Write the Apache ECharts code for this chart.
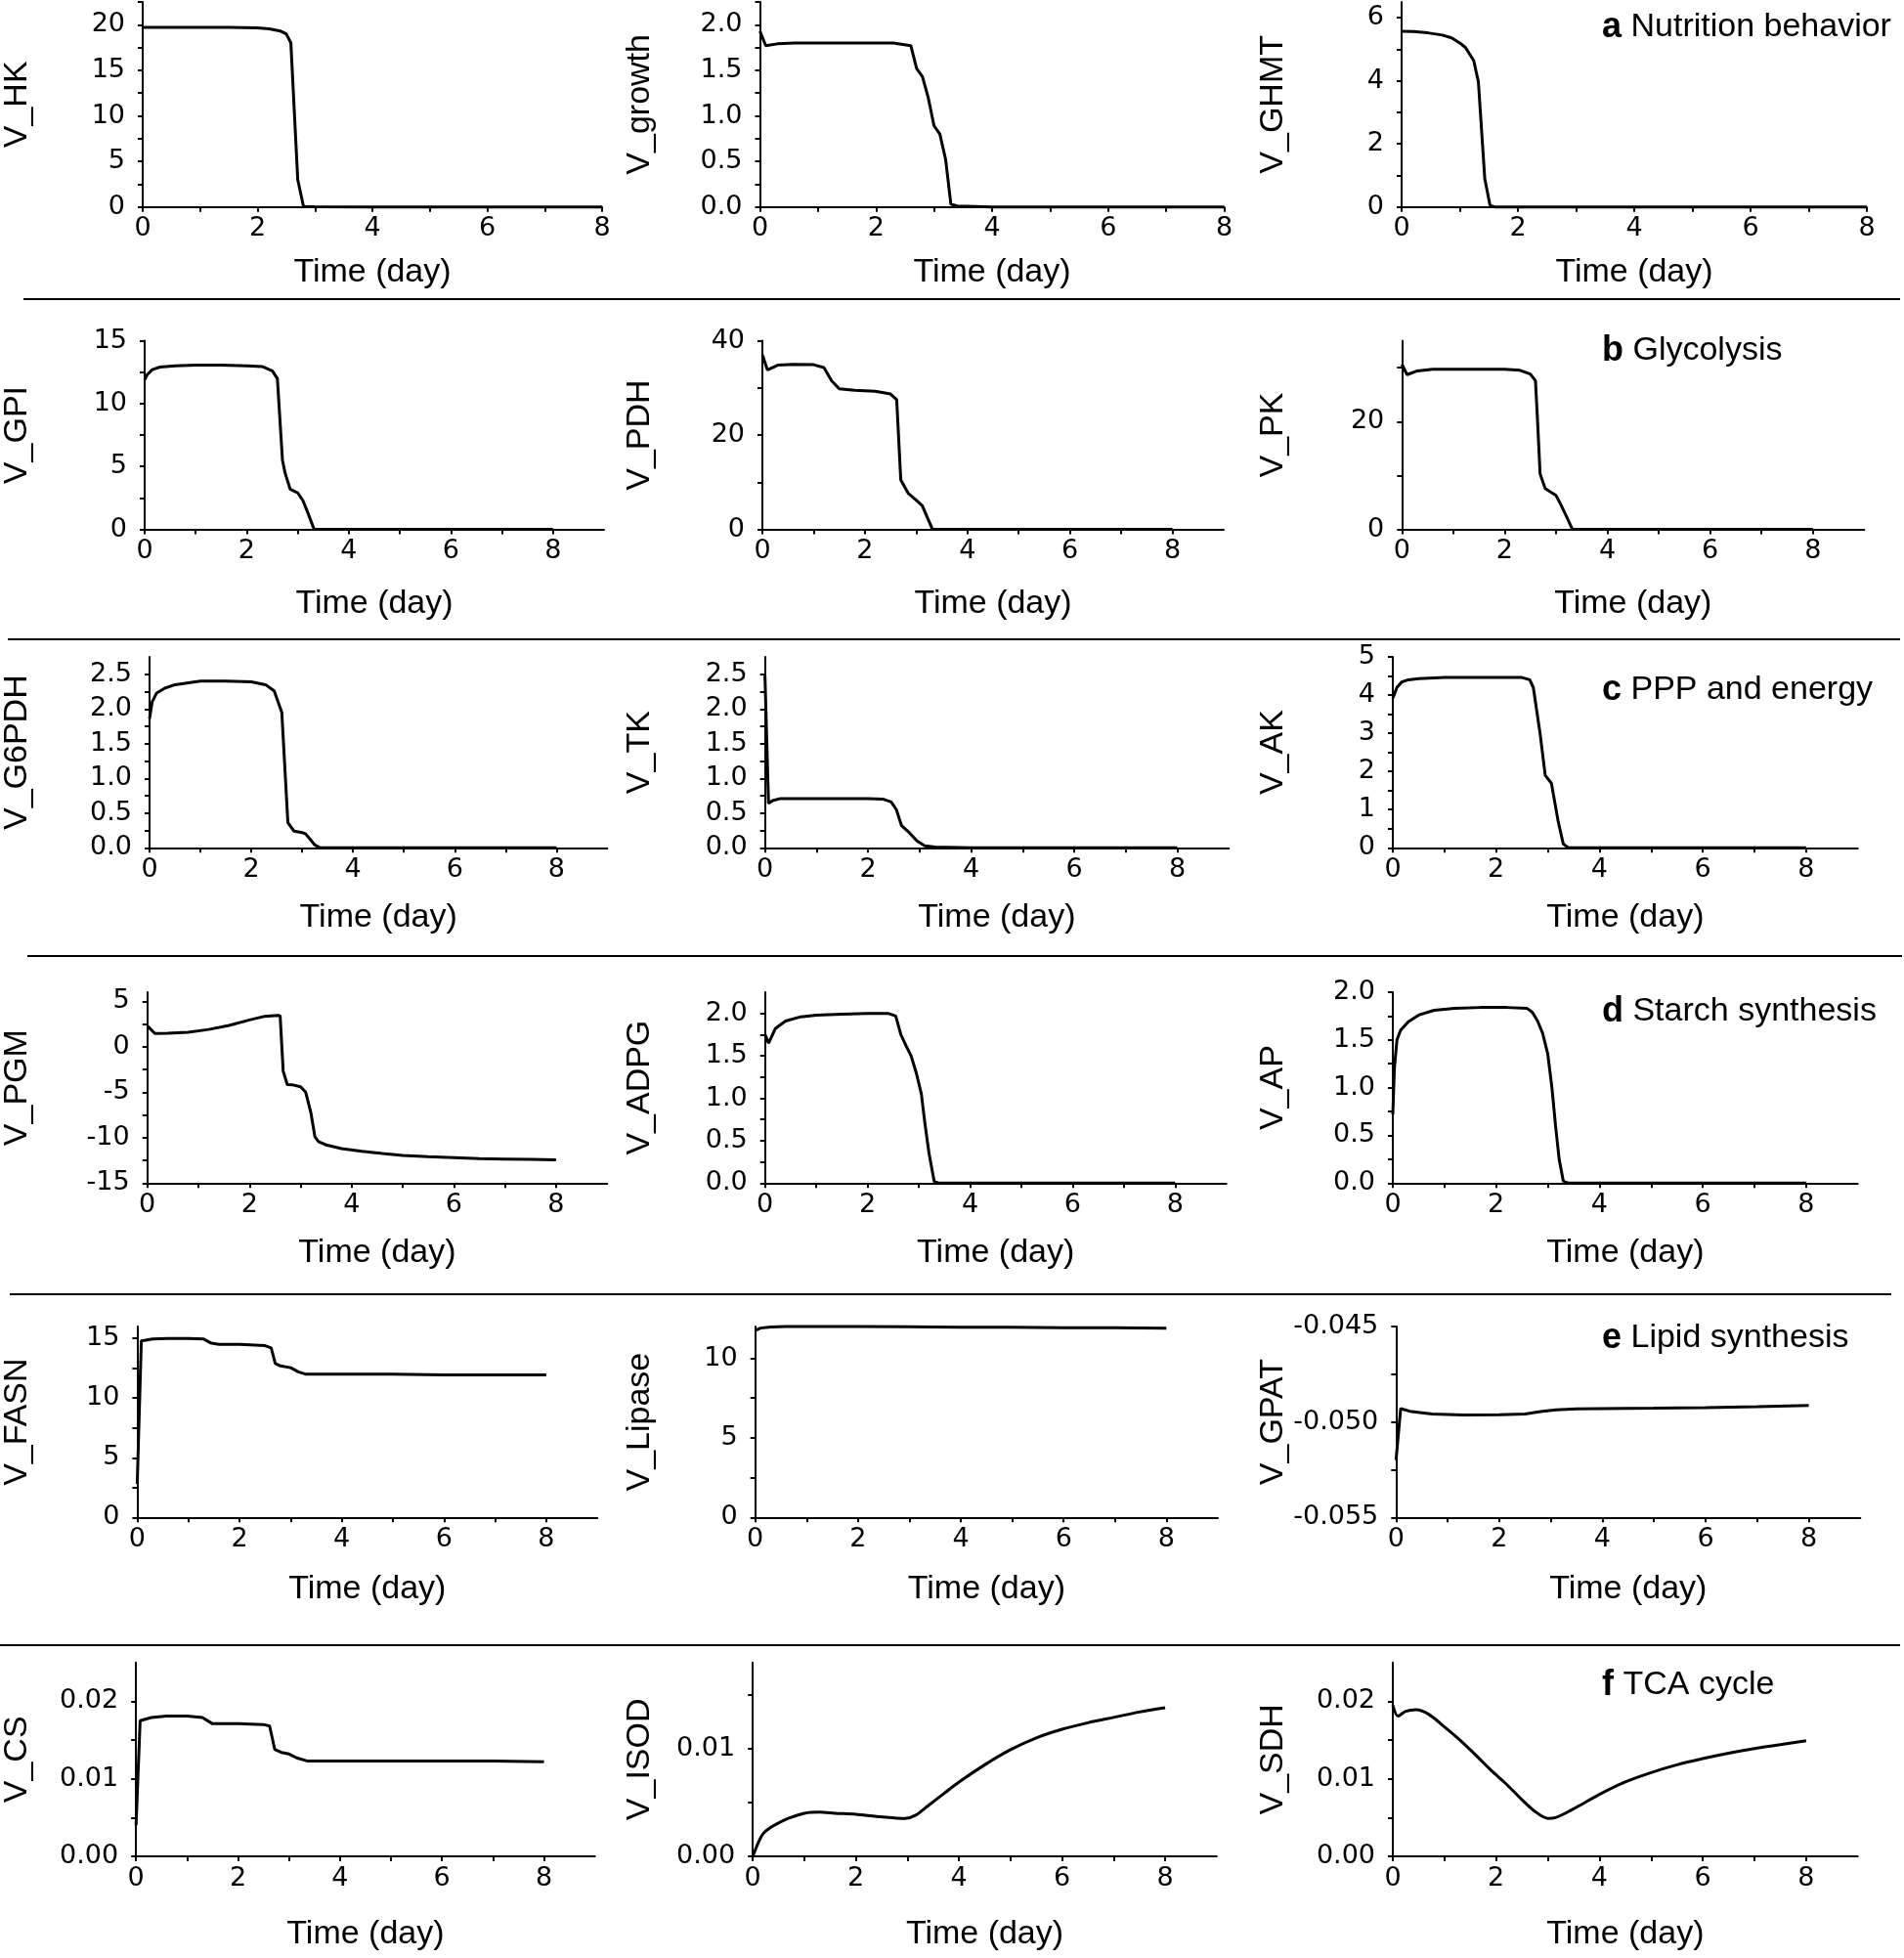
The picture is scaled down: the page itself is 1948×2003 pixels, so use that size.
<!DOCTYPE html>
<html><head><meta charset="utf-8">
<script src="https://cdn.jsdelivr.net/npm/echarts@6/dist/echarts.min.js"></script>
<style>html,body{margin:0;padding:0;background:#fff}#c{width:1948px;height:2003px}</style>
</head><body><div id="c"></div>
<script>
// ---------- DATA ----------
// x axis (time, day)
const X_LABELS = [0, 2, 4, 6, 8];
const X_TICKS = [0, 1, 2, 3, 4, 5, 6, 7, 8];

// a Nutrition behavior
const T_HK = [0, 0.5, 1, 1.5, 2.0, 2.2, 2.4, 2.5, 2.58, 2.7, 2.8, 3, 4, 5, 6, 7, 8];
const V_HK = [19.7, 19.7, 19.7, 19.7, 19.65, 19.55, 19.3, 19.0, 18.0, 3.0, 0.05, 0.02, 0, 0, 0, 0, 0];
const T_GROWTH = [0, 0.1, 0.3, 0.6, 1, 1.5, 2, 2.3, 2.6, 2.7, 2.8, 2.9, 3.0, 3.1, 3.2, 3.29, 3.4, 4, 5, 6, 7, 8];
const V_GROWTH = [1.93, 1.77, 1.79, 1.80, 1.80, 1.80, 1.80, 1.80, 1.77, 1.52, 1.43, 1.2, 0.89, 0.80, 0.52, 0.03, 0.01, 0, 0, 0, 0, 0];
const T_GHMT = [0, 0.2, 0.45, 0.7, 0.86, 1.0, 1.1, 1.24, 1.32, 1.43, 1.52, 1.6, 2, 4, 6, 8];
const V_GHMT = [5.57, 5.56, 5.52, 5.45, 5.36, 5.2, 5.05, 4.64, 3.97, 0.9, 0.05, 0, 0, 0, 0, 0];

// b Glycolysis
const T_GPI = [0, 0.05, 0.15, 0.3, 0.6, 1, 1.5, 2, 2.3, 2.5, 2.6, 2.7, 2.75, 2.85, 3.0, 3.1, 3.2, 3.32, 3.4, 4, 5, 6, 7, 8];
const V_GPI = [11.9, 12.3, 12.7, 12.9, 13.0, 13.05, 13.05, 13.0, 12.95, 12.6, 12.0, 5.5, 4.5, 3.2, 2.9, 2.3, 1.3, 0, 0, 0, 0, 0, 0, 0];
const T_PDH = [0, 0.1, 0.3, 0.6, 1.0, 1.2, 1.35, 1.5, 1.8, 2.2, 2.5, 2.62, 2.7, 2.85, 3.0, 3.12, 3.22, 3.32, 3.4, 4, 5, 6, 7, 8];
const V_PDH = [37, 33.8, 34.8, 35, 34.9, 34.3, 31.5, 29.8, 29.5, 29.3, 28.7, 27.5, 10.5, 7.6, 6.2, 5.0, 2.5, 0, 0, 0, 0, 0, 0, 0];
const T_PK = [0, 0.1, 0.3, 0.6, 1, 1.5, 2, 2.3, 2.5, 2.6, 2.64, 2.69, 2.79, 2.9, 3.0, 3.1, 3.2, 3.32, 3.4, 4, 5, 6, 7, 8];
const V_PK = [30.6, 28.7, 29.4, 29.7, 29.7, 29.7, 29.7, 29.5, 28.8, 27.6, 20.3, 10.3, 7.6, 6.9, 6.3, 4.5, 2.5, 0, 0, 0, 0, 0, 0, 0];

// c PPP and energy
const T_G6PDH = [0, 0.05, 0.14, 0.3, 0.5, 1, 1.5, 2, 2.28, 2.45, 2.6, 2.72, 2.84, 3.0, 3.07, 3.16, 3.25, 3.36, 4, 5, 6, 7, 8];
const V_G6PDH = [1.86, 2.1, 2.23, 2.3, 2.35, 2.40, 2.40, 2.39, 2.35, 2.26, 1.95, 0.36, 0.24, 0.22, 0.2, 0.12, 0.04, 0, 0, 0, 0, 0, 0];
const T_TK = [0, 0.07, 0.15, 0.3, 0.6, 1, 1.5, 2, 2.3, 2.45, 2.55, 2.65, 2.8, 2.95, 3.1, 3.3, 4, 5, 6, 7, 8];
const V_TK = [2.49, 0.64, 0.68, 0.71, 0.71, 0.71, 0.71, 0.71, 0.70, 0.66, 0.55, 0.32, 0.22, 0.1, 0.03, 0.01, 0, 0, 0, 0, 0];
const T_AK = [0, 0.08, 0.17, 0.3, 0.5, 1, 1.5, 2, 2.5, 2.65, 2.72, 2.85, 2.95, 3.07, 3.2, 3.3, 3.4, 4, 5, 6, 7, 8];
const V_AK = [3.92, 4.2, 4.34, 4.4, 4.43, 4.46, 4.46, 4.46, 4.46, 4.4, 4.2, 3.0, 1.9, 1.69, 0.7, 0.1, 0, 0, 0, 0, 0, 0];

// d Starch synthesis
const T_PGM = [0, 0.15, 0.4, 0.8, 1.2, 1.6, 2.0, 2.3, 2.55, 2.6, 2.66, 2.74, 2.85, 3.0, 3.1, 3.2, 3.28, 3.35, 3.5, 3.8, 4.2, 4.6, 5, 5.5, 6, 6.5, 7, 7.5, 8];
const V_PGM = [2.3, 1.45, 1.48, 1.6, 1.9, 2.35, 2.95, 3.35, 3.45, 3.4, -2.7, -4.16, -4.2, -4.4, -5.0, -7.2, -9.9, -10.45, -10.8, -11.2, -11.5, -11.75, -11.95, -12.1, -12.2, -12.3, -12.35, -12.4, -12.45];
const T_ADPG = [0, 0.07, 0.2, 0.4, 0.7, 1, 1.5, 2, 2.4, 2.55, 2.65, 2.75, 2.85, 2.95, 3.05, 3.12, 3.2, 3.3, 3.4, 4, 5, 6, 7, 8];
const V_ADPG = [1.75, 1.65, 1.82, 1.91, 1.96, 1.98, 1.99, 2.0, 2.0, 1.97, 1.75, 1.62, 1.5, 1.3, 1.05, 0.7, 0.35, 0.02, 0, 0, 0, 0, 0, 0];
const T_AP = [0, 0.03, 0.08, 0.15, 0.3, 0.5, 0.8, 1.2, 1.7, 2.2, 2.6, 2.7, 2.8, 2.9, 3.0, 3.08, 3.15, 3.22, 3.3, 3.4, 4, 5, 6, 7, 8];
const V_AP = [0.72, 1.2, 1.5, 1.6, 1.69, 1.76, 1.81, 1.83, 1.84, 1.84, 1.83, 1.79, 1.7, 1.57, 1.35, 1.0, 0.6, 0.25, 0.02, 0, 0, 0, 0, 0, 0];

// e Lipid synthesis
const T_FASN = [0, 0.08, 0.3, 0.6, 1, 1.3, 1.45, 1.6, 2, 2.5, 2.62, 2.7, 2.8, 3.0, 3.15, 3.3, 4, 5, 6, 7, 8];
const V_FASN = [2.8, 14.8, 14.95, 15.0, 15.0, 14.95, 14.6, 14.5, 14.5, 14.4, 14.2, 12.9, 12.7, 12.55, 12.2, 12.0, 12.0, 12.0, 11.95, 11.95, 11.95];
const T_LIPASE = [0, 0.1, 0.3, 0.6, 1, 2, 3, 4, 5, 6, 7, 8];
const V_LIPASE = [11.75, 11.9, 11.97, 12.0, 12.0, 12.0, 11.98, 11.96, 11.95, 11.93, 11.92, 11.9];
const T_GPAT = [0, 0.09, 0.3, 0.7, 1.3, 2, 2.5, 2.8, 3.1, 3.5, 4, 5, 6, 7, 8];
const V_GPAT = [-0.0520, -0.04930, -0.04946, -0.04958, -0.04963, -0.04962, -0.04958, -0.04946, -0.04936, -0.04932, -0.04930, -0.04928, -0.04925, -0.04920, -0.04914];

// f TCA cycle
const T_CS = [0, 0.08, 0.3, 0.6, 1, 1.3, 1.5, 2, 2.5, 2.62, 2.72, 2.85, 3.0, 3.15, 3.35, 4, 5, 6, 7, 8];
const V_CS = [0.0040, 0.0175, 0.0179, 0.0181, 0.0181, 0.0179, 0.0171, 0.0171, 0.0170, 0.0168, 0.0138, 0.0134, 0.0132, 0.0127, 0.0123, 0.0123, 0.0123, 0.0123, 0.0123, 0.0122];
const T_ISOD = [0, 0.1, 0.2, 0.35, 0.5, 0.7, 1.0, 1.3, 1.6, 2.0, 2.4, 2.8, 2.95, 3.15, 3.4, 3.7, 4.0, 4.5, 5, 5.5, 6, 6.5, 7, 7.5, 8];
const V_ISOD = [0, 0.0012, 0.0021, 0.0027, 0.0031, 0.00355, 0.0040, 0.0041, 0.0040, 0.0039, 0.0037, 0.00355, 0.00352, 0.0038, 0.0047, 0.0058, 0.0069, 0.0085, 0.0099, 0.0110, 0.0118, 0.0124, 0.0129, 0.0134, 0.0138];
const T_SDH = [0, 0.1, 0.25, 0.45, 0.7, 1.0, 1.3, 1.6, 1.9, 2.2, 2.5, 2.75, 3.0, 3.15, 3.35, 3.6, 4.0, 4.5, 5, 5.5, 6, 6.5, 7, 7.5, 8];
const V_SDH = [0.0195, 0.0181, 0.0187, 0.0189, 0.0183, 0.0167, 0.0150, 0.0131, 0.0111, 0.0093, 0.0073, 0.0058, 0.0049, 0.0050, 0.0056, 0.0065, 0.0080, 0.0096, 0.0108, 0.0118, 0.0126, 0.0133, 0.0139, 0.0144, 0.0149];

// y tick labels / tick marks
const YL_HK = [0, 5, 10, 15, 20];           const YT_HK = [0, 2.5, 5, 7.5, 10, 12.5, 15, 17.5, 20, 22.5];
const YL_GROWTH = [0, 0.5, 1, 1.5, 2];      const YT_GROWTH = [0, 0.25, 0.5, 0.75, 1, 1.25, 1.5, 1.75, 2, 2.25];
const YL_GHMT = [0, 2, 4, 6];               const YT_GHMT = [0, 1, 2, 3, 4, 5, 6];
const YL_GPI = [0, 5, 10, 15];              const YT_GPI = [0, 2.5, 5, 7.5, 10, 12.5, 15];
const YL_PDH = [0, 20, 40];                 const YT_PDH = [0, 10, 20, 30, 40];
const YL_PK = [0, 20];                      const YT_PK = [0, 10, 20, 30];
const YL_G6PDH = [0, 0.5, 1, 1.5, 2, 2.5];  const YT_G6PDH = [0, 0.25, 0.5, 0.75, 1, 1.25, 1.5, 1.75, 2, 2.25, 2.5];
const YL_TK = [0, 0.5, 1, 1.5, 2, 2.5];     const YT_TK = [0, 0.25, 0.5, 0.75, 1, 1.25, 1.5, 1.75, 2, 2.25, 2.5];
const YL_AK = [0, 1, 2, 3, 4, 5];           const YT_AK = [0, 0.5, 1, 1.5, 2, 2.5, 3, 3.5, 4, 4.5, 5];
const YL_PGM = [-15, -10, -5, 0, 5];        const YT_PGM = [-15, -12.5, -10, -7.5, -5, -2.5, 0, 2.5, 5];
const YL_ADPG = [0, 0.5, 1, 1.5, 2];        const YT_ADPG = [0, 0.25, 0.5, 0.75, 1, 1.25, 1.5, 1.75, 2];
const YL_AP = [0, 0.5, 1, 1.5, 2];          const YT_AP = [0, 0.25, 0.5, 0.75, 1, 1.25, 1.5, 1.75, 2];
const YL_FASN = [0, 5, 10, 15];             const YT_FASN = [0, 2.5, 5, 7.5, 10, 12.5, 15];
const YL_LIPASE = [0, 5, 10];               const YT_LIPASE = [0, 2.5, 5, 7.5, 10];
const YL_GPAT = [-0.055, -0.05, -0.045];    const YT_GPAT = [-0.055, -0.0525, -0.05, -0.0475, -0.045];
const YL_CS = [0, 0.01, 0.02];              const YT_CS = [0, 0.005, 0.01, 0.015, 0.02];
const YL_ISOD = [0, 0.01];                  const YT_ISOD = [0, 0.005, 0.01, 0.015];
const YL_SDH = [0, 0.01, 0.02];             const YT_SDH = [0, 0.005, 0.01, 0.015, 0.02];

const SECTION_LABELS = [['a', 'Nutrition behavior'], ['b', 'Glycolysis'], ['c', 'PPP and energy'],
  ['d', 'Starch synthesis'], ['e', 'Lipid synthesis'], ['f', 'TCA cycle']];

// ---------- LAYOUT ----------
const FONT = '"Liberation Sans", Arial, sans-serif';
const TICK_FONT = '"DejaVu Sans", "Liberation Sans", sans-serif';
const rows = [
  { top: 2, bottom: 211.7, xMax: 8, xNameGap: 50, labelY: 28 },
  { top: 348.5, bottom: 541.6, xMax: 9, xNameGap: 59, labelY: 359 },
  { top: 672, bottom: 867.3, xMax: 9, xNameGap: 54, labelY: 706 },
  { top: 1015, bottom: 1210.3, xMax: 9, xNameGap: 54, labelY: 1035 },
  { top: 1357, bottom: 1552.3, xMax: 9, xNameGap: 56, labelY: 1369 },
  { top: 1700.7, bottom: 1899, xMax: 9, xNameGap: 63, labelY: 1724 }
];
const NAME_RIGHT = [30, 672, 1320];
const panels = [
  { row: 0, left: 141, width: 475, name: 'V_HK', t: T_HK, v: V_HK, min: 0, max: 22.5, yl: YL_HK, yt: YT_HK, dec: 0 },
  { row: 0, left: 777.5, width: 475, name: 'V_growth', t: T_GROWTH, v: V_GROWTH, min: 0, max: 2.25, yl: YL_GROWTH, yt: YT_GROWTH, dec: 1 },
  { row: 0, left: 1434, width: 476, name: 'V_GHMT', t: T_GHMT, v: V_GHMT, min: 0, max: 6.5, yl: YL_GHMT, yt: YT_GHMT, dec: 0 },
  { row: 1, left: 143, width: 475, name: 'V_GPI', t: T_GPI, v: V_GPI, min: 0, max: 15, yl: YL_GPI, yt: YT_GPI, dec: 0 },
  { row: 1, left: 780, width: 472, name: 'V_PDH', t: T_PDH, v: V_PDH, min: 0, max: 40, yl: YL_PDH, yt: YT_PDH, dec: 0 },
  { row: 1, left: 1434.3, width: 473, name: 'V_PK', t: T_PK, v: V_PK, min: 0, max: 35, yl: YL_PK, yt: YT_PK, dec: 0 },
  { row: 2, left: 148, width: 473.4, name: 'V_G6PDH', t: T_G6PDH, v: V_G6PDH, min: 0, max: 2.75, yl: YL_G6PDH, yt: YT_G6PDH, dec: 1 },
  { row: 2, left: 782.6, width: 474.6, name: 'V_TK', t: T_TK, v: V_TK, min: 0, max: 2.75, yl: YL_TK, yt: YT_TK, dec: 1 },
  { row: 2, left: 1425, width: 475.7, name: 'V_AK', t: T_AK, v: V_AK, min: 0, max: 5, yl: YL_AK, yt: YT_AK, dec: 0 },
  { row: 3, left: 145.7, width: 475.5, name: 'V_PGM', t: T_PGM, v: V_PGM, min: -15, max: 6, yl: YL_PGM, yt: YT_PGM, dec: 0 },
  { row: 3, left: 782.7, width: 472, name: 'V_ADPG', t: T_ADPG, v: V_ADPG, min: 0, max: 2.25, yl: YL_ADPG, yt: YT_ADPG, dec: 1 },
  { row: 3, left: 1425, width: 475.7, name: 'V_AP', t: T_AP, v: V_AP, min: 0, max: 2, yl: YL_AP, yt: YT_AP, dec: 1 },
  { row: 4, left: 135.4, width: 475.8, name: 'V_FASN', t: T_FASN, v: V_FASN, min: 0, max: 16, yl: YL_FASN, yt: YT_FASN, dec: 0 },
  { row: 4, left: 772.7, width: 473.3, name: 'V_Lipase', t: T_LIPASE, v: V_LIPASE, min: 0, max: 12, yl: YL_LIPASE, yt: YT_LIPASE, dec: 0 },
  { row: 4, left: 1428.3, width: 475, name: 'V_GPAT', t: T_GPAT, v: V_GPAT, min: -0.055, max: -0.045, yl: YL_GPAT, yt: YT_GPAT, dec: 3 },
  { row: 5, left: 134.2, width: 474.5, name: 'V_CS', t: T_CS, v: V_CS, min: 0, max: 0.025, yl: YL_CS, yt: YT_CS, dec: 2 },
  { row: 5, left: 770.2, width: 474.6, name: 'V_ISOD', t: T_ISOD, v: V_ISOD, min: 0, max: 0.018, yl: YL_ISOD, yt: YT_ISOD, dec: 2, smooth: 0.3 },
  { row: 5, left: 1425, width: 475.7, name: 'V_SDH', t: T_SDH, v: V_SDH, min: 0, max: 0.025, yl: YL_SDH, yt: YT_SDH, dec: 2, smooth: 0.3 }
];

const zip = (a, b) => a.map((x, i) => [x, b[i]]);
const axisLineStyle = { color: '#000', width: 2 };
const tickStyle = { color: '#000', width: 2 };

const grid = [], xAxis = [], yAxis = [], series = [];
panels.forEach((p, i) => {
  const r = rows[p.row];
  const col = i % 3;
  grid.push({ left: p.left, top: r.top, width: p.width, height: r.bottom - r.top, containLabel: false });
  xAxis.push({
    type: 'value', gridIndex: i, min: 0, max: r.xMax,
    name: 'Time (day)', nameLocation: 'middle', nameGap: r.xNameGap,
    nameTextStyle: { fontFamily: FONT, fontSize: 34, color: '#000' },
    axisLine: { show: true, onZero: false, lineStyle: axisLineStyle },
    axisTick: { show: true, inside: false, length: 5, customValues: X_TICKS, lineStyle: tickStyle },
    axisLabel: { customValues: X_LABELS, margin: 9, fontFamily: TICK_FONT, fontSize: 27, color: '#000' },
    splitLine: { show: false }
  });
  yAxis.push({
    type: 'value', gridIndex: i, min: p.min, max: p.max,
    name: p.name, nameLocation: 'middle', nameGap: p.left - NAME_RIGHT[col],
    nameTextStyle: { fontFamily: FONT, fontSize: 34, color: '#000' },
    axisLine: { show: true, onZero: false, lineStyle: axisLineStyle },
    axisTick: { show: true, inside: false, length: 5, customValues: p.yt, lineStyle: tickStyle },
    axisLabel: { customValues: p.yl, margin: 18, fontFamily: TICK_FONT, fontSize: 27, color: '#000',
      formatter: (v) => Number(v).toFixed(p.dec) },
    splitLine: { show: false }
  });
  series.push({
    type: 'line', xAxisIndex: i, yAxisIndex: i, data: zip(p.t, p.v),
    symbol: 'none', showSymbol: false, clip: false, smooth: p.smooth || false,
    lineStyle: { color: '#000', width: 3 }
  });
});

const graphic = [];
const seps = [[306, 24, 1944], [654, 8, 1944], [978, 28, 1946], [1324, 10, 1935], [1683, 0, 1944]];
seps.forEach(s => graphic.push({ type: 'line', shape: { x1: s[1], y1: s[0], x2: s[2], y2: s[0] },
  style: { stroke: '#000', lineWidth: 2 }, silent: true }));
SECTION_LABELS.forEach((lab, k) => graphic.push({
  type: 'text', x: 1639, y: rows[k].labelY,
  style: {
    text: '{l|' + lab[0] + '} {t|' + lab[1] + '}',
    verticalAlign: 'middle', align: 'left',
    rich: {
      l: { fontFamily: FONT, fontSize: 36, fontWeight: 'bold', fill: '#000' },
      t: { fontFamily: FONT, fontSize: 34, fill: '#000' }
    },
    fontFamily: FONT, fontSize: 34, fill: '#000'
  }
}));

const chart = echarts.init(document.getElementById('c'), null, { renderer: 'canvas' });
chart.setOption({
  backgroundColor: '#fff', animation: false,
  grid, xAxis, yAxis, series, graphic
});
</script></body></html>
